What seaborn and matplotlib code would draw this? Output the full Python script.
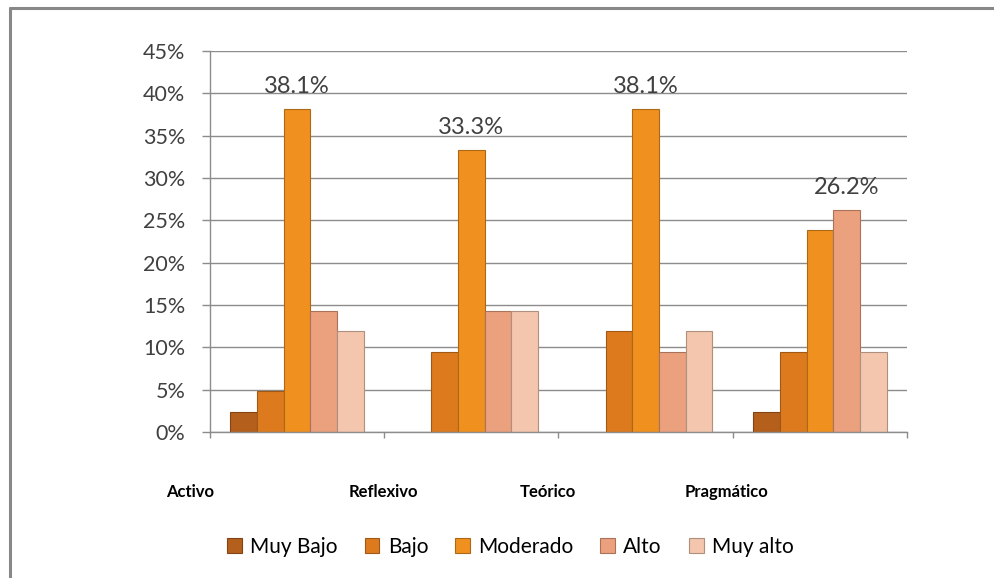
import numpy as np
import pandas as pd
import matplotlib
matplotlib.use("Agg")
import matplotlib.pyplot as plt
import seaborn as sns
from matplotlib.lines import Line2D
from matplotlib.patches import Patch
import matplotlib.transforms as mtransforms
import matplotlib.colors as mcolors

# ---- data ----
categorias = ["Activo", "Reflexivo", "Teórico", "Pragmático"]
niveles = ["Muy Bajo", "Bajo", "Moderado", "Alto", "Muy alto"]
muy_bajo = [2.4, 0.0, 0.0, 2.4]
bajo = [4.8, 9.5, 11.9, 9.5]
moderado = [38.1, 33.3, 38.1, 23.8]
alto = [14.3, 14.3, 9.5, 26.2]
muy_alto = [11.9, 14.3, 11.9, 9.5]
ytick_vals = [0, 5, 10, 15, 20, 25, 30, 35, 40, 45]
colores = ["#B45F1C", "#DE7A1E", "#F0901F", "#EBA07E", "#F3C6AD"]

series = [muy_bajo, bajo, moderado, alto, muy_alto]
rows = []
for nivel, vals in zip(niveles, series):
    for cat, v in zip(categorias, vals):
        rows.append({"Estilo": cat, "Nivel": nivel, "Valor": v})
df = pd.DataFrame(rows)

sns.set_theme(style="white")
plt.rcParams['font.family'] = ['Lato', 'DejaVu Sans']
txt = "#404040"
grid_c = "#8C8C8C"

fig = plt.figure(figsize=(9.95, 5.78), dpi=100)
ax = fig.add_axes([210/995, 1-432/578, (907-210)/995, (432-51)/578])

sns.barplot(data=df, x="Estilo", y="Valor", hue="Nivel", order=categorias,
            hue_order=niveles, palette=colores, width=0.765, saturation=1,
            ax=ax, legend=False)

for cont, col in zip(ax.containers, colores):
    dark = tuple(np.array(mcolors.to_rgb(col)) * 0.72)
    for bar in cont:
        if bar.get_height() <= 0:
            bar.set_linewidth(0)
        else:
            bar.set_edgecolor(dark)
            bar.set_linewidth(0.8)

# data labels on the highest bar of each group
for i, cat in enumerate(categorias):
    vals = [s[i] for s in series]
    j = int(np.argmax(vals))
    bar = ax.containers[j][i]
    ax.annotate(f"{vals[j]:.1f}%", (bar.get_x() + bar.get_width()/2, bar.get_height()),
                xytext=(0, 9), textcoords="offset points", ha="center", va="bottom",
                fontsize=17, color=txt, annotation_clip=False)

ax.set_ylim(0, 45)
ax.set_xlim(-0.5, len(categorias) - 0.5)
ax.set_yticks(ytick_vals)
ax.set_yticklabels([f"{v}%" for v in ytick_vals], fontsize=15.5, color=txt)
ax.yaxis.grid(True, color=grid_c, lw=1)
ax.xaxis.grid(False)
ax.set_axisbelow(True)
for s in ["top", "right"]:
    ax.spines[s].set_visible(False)
for s in ["left", "bottom"]:
    ax.spines[s].set_color(grid_c)
    ax.spines[s].set_linewidth(1)

bounds = [i - 0.5 for i in range(len(categorias) + 1)]
ax.set_xticks(bounds)
ax.set_xticklabels(categorias + [""], fontsize=12, fontweight="bold", color="black")
ax.tick_params(axis="x", length=4.3, width=1, color=grid_c, pad=33, bottom=True)
ax.tick_params(axis="y", length=5.8, width=1, color=grid_c, pad=12, left=True)
ax.set_xlabel("")
ax.set_ylabel("")

shifts = [-20, -1, -11, -6]
for lab, dx in zip(ax.get_xticklabels(), shifts):
    lab.set_transform(lab.get_transform() + mtransforms.ScaledTranslation(dx/100, 0, fig.dpi_scale_trans))

handles = [Patch(facecolor=c, edgecolor=tuple(np.array(mcolors.to_rgb(c))*0.72), linewidth=0.8) for c in colores]
fig.legend(handles, niveles, loc="center", bbox_to_anchor=(0.513, 1-547/578), ncol=5,
           frameon=False, fontsize=15, handlelength=0.7, handleheight=0.7,
           handletextpad=0.4, columnspacing=1.3, labelcolor="black")

# outer border (top and left visible)
fig.add_artist(Line2D([10/995, 10/995], [0, 1-8/578], transform=fig.transFigure, color="#888888", lw=2.2))
fig.add_artist(Line2D([10/995, 1], [1-8/578, 1-8/578], transform=fig.transFigure, color="#888888", lw=2.2))

fig.savefig("out.png", dpi=100, facecolor="white")
